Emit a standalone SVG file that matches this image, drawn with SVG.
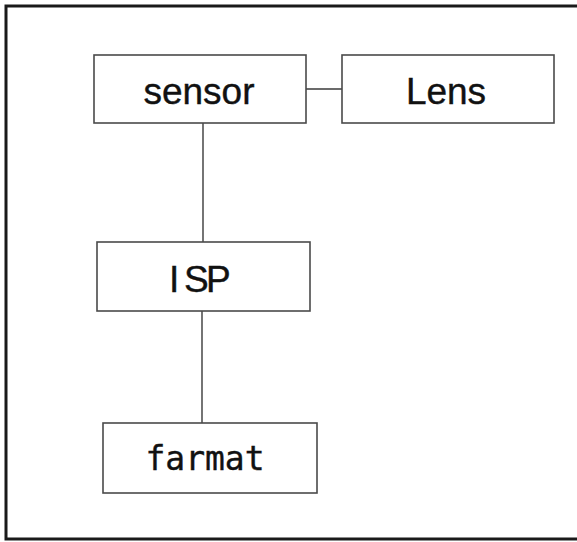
<svg xmlns="http://www.w3.org/2000/svg" width="577" height="542" viewBox="0 0 577 542">
  <style>
    .frame { fill: none; stroke: #1a1a1a; stroke-width: 3; }
    .box { fill: #ffffff; stroke: #4a4a4a; stroke-width: 1.6; }
    .link { fill: none; stroke: #3a3a3a; stroke-width: 1.4; }
    .sans { font-family: "Liberation Sans", Arial, sans-serif; font-size: 37px; fill: #111; stroke: #111; stroke-width: 0.4; }
    .mono { font-family: "DejaVu Sans Mono", "Liberation Mono", monospace; font-size: 33px; fill: #111; stroke: #111; stroke-width: 0.4; }
  </style>
  <rect x="0" y="0" width="577" height="542" fill="#ffffff"/>

  <!-- outer frame, open on the right side -->
  <path class="frame" d="M 580 6 H 6 V 539 H 580"/>

  <!-- connectors -->
  <g id="connectors">
    <line class="link" x1="306" y1="89" x2="342" y2="89"/>
    <line class="link" x1="203" y1="123" x2="203" y2="242"/>
    <line class="link" x1="202" y1="311" x2="202" y2="423"/>
  </g>

  <g id="node-sensor">
    <rect class="box" x="94" y="55" width="212" height="68"/>
    <text class="sans" x="199" y="104" text-anchor="middle">sensor</text>
  </g>

  <g id="node-lens">
    <rect class="box" x="342" y="55" width="212" height="68"/>
    <text class="sans" x="446" y="104" text-anchor="middle">Lens</text>
  </g>

  <g id="node-isp">
    <rect class="box" x="97" y="242" width="213" height="69"/>
    <text class="sans" x="169 184 206" y="292">ISP</text>
  </g>

  <g id="node-format">
    <rect class="box" x="103" y="423" width="214" height="70"/>
    <text class="mono" x="205" y="470" text-anchor="middle">farmat</text>
  </g>
</svg>
